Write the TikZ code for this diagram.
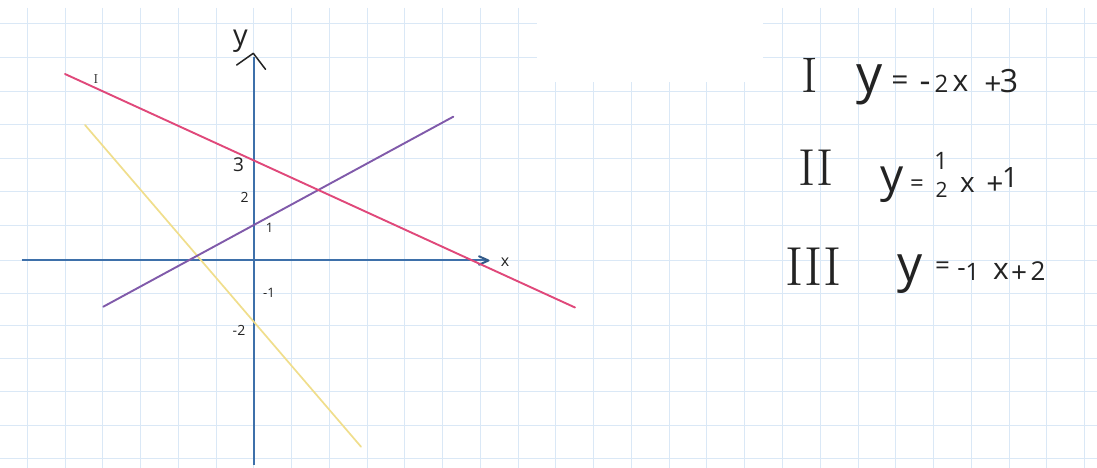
\documentclass[tikz,border=0pt]{standalone}
\usepackage{fontspec}
\newfontfamily\handfont{Open Sans}
\definecolor{gridc}{RGB}{218,232,246}
\definecolor{axisc}{RGB}{62,112,170}
\definecolor{pinkc}{RGB}{224,72,122}
\definecolor{purplec}{RGB}{128,90,170}
\definecolor{yellowc}{RGB}{240,222,140}
\definecolor{ink}{RGB}{35,35,35}
\begin{document}
\begin{tikzpicture}[x=1pt,y=-1pt,
  gridline/.style={draw=gridc,line width=1pt},
  axisline/.style={draw=axisc,line width=2.4pt},
  graphline/.style={line width=1.9pt,line cap=round},
  hw/.style={font=\handfont\fontsize{#1}{#1}\selectfont,inner sep=0pt,text=ink},
  rn/.style={font=\fontsize{#1}{#1}\selectfont,inner sep=0pt,text=ink}]
\useasboundingbox (0,0) rectangle (1097,468);
\fill[white] (0,0) rectangle (1097,468);
% grid paper
\foreach \k in {0,...,28} \draw[gridline] ({27.3+\k*37.76},8) -- ({27.3+\k*37.76},468);
\foreach \yy in {24,57.3,91.7,125,158.3,191,225,260,293.3,325,358.3,391.7,425,458.3}
  \draw[gridline] (0,\yy) -- (1097,\yy);
\fill[white] (537,0) rectangle (763,82);
% axes
\coordinate (xs) at (21.7,260);
\coordinate (xe) at (487,260);
\coordinate (ys) at (254,465);
\coordinate (ye) at (254,57);
\draw[axisline] (xs) -- (xe);
\draw[axisline] (ys) -- (ye);
\coordinate (xa1) at (479,256.3);
\coordinate (xa2) at (488.5,260.5);
\coordinate (xa3) at (479,264.7);
\draw[draw=axisc!80!black,line width=2pt,line join=round,line cap=round] (xa1) -- (xa2) -- (xa3);
\coordinate (ya1) at (236.7,65);
\coordinate (ya2) at (253.3,53.3);
\coordinate (ya3) at (265.5,69.3);
\draw[draw=ink,line width=1.5pt,line join=round,line cap=round] (ya1) -- (ya2) -- (ya3);
% lines
\coordinate (pI1) at (65,74);
\coordinate (pI2) at (575,307.5);
\coordinate (pII1) at (103.3,306.7);
\coordinate (pII2) at (453.3,116.7);
\coordinate (pIII1) at (85,125);
\coordinate (pIII2) at (361,446.7);
\draw[graphline,draw=yellowc,line width=1.7pt] (pIII1) -- (pIII2);
\draw[graphline,draw=purplec] (pII1) -- (pII2);
\draw[graphline,draw=pinkc] (pI1) -- (pI2);
% graph labels
\node[hw=29] (ylab) at (240.5,41.5) {y};
\node[hw=16] (xlab) at (505,262.5) {x};
\node[rn=13] (lI) at (96,79.5) {I};
\node[hw=19] (t3) at (238.5,165) {3};
\node[hw=14] (t2) at (244.5,197.5) {2};
\node[hw=13] (t1) at (269.5,227.5) {1};
\node[hw=13] (tm1) at (269,292.5) {-1};
\node[hw=14] (tm2) at (239,330) {-2};
% equation I
\node[rn=50] (r1) at (810,75) {I};
\node[hw=52] (e1y) at (870,85) {y};
\node[hw=30] (e1eq) at (900,83.5) {=};
\node[hw=34] (e1m) at (925,87) {-};
\node[hw=24] (e1two) at (941.5,83.5) {2};
\node[hw=30] (e1x) at (960.5,83.5) {x};
\node[hw=30] (e1p) at (993,86) {+};
\node[hw=32] (e1three) at (1009,81) {3};
% equation II
\node[rn=52] (r2) at (816,167.5) {II};
\node[hw=46] (e2y) at (892.5,185) {y};
\node[hw=24] (e2eq) at (917,186) {=};
\node[hw=24] (e2n) at (941,161) {1};
\node[hw=21] (e2d) at (941.5,189.5) {2};
\node[hw=28] (e2x) at (967.5,185) {x};
\node[hw=30] (e2p) at (995,186) {+};
\node[hw=28] (e2one) at (1010,178) {1};
% equation III
\node[rn=55] (r3) at (813.5,267) {III};
\node[hw=50] (e3y) at (910.5,274) {y};
\node[hw=26] (e3eq) at (942.5,268) {=};
\node[hw=26] (e3m) at (961.5,273) {-};
\node[hw=24] (e3one) at (972.5,271.5) {1};
\node[hw=30] (e3x) at (1001,271.5) {x};
\node[hw=28] (e3p) at (1019,274) {+};
\node[hw=26] (e3two) at (1038,271.5) {2};
\end{tikzpicture}
\end{document}
